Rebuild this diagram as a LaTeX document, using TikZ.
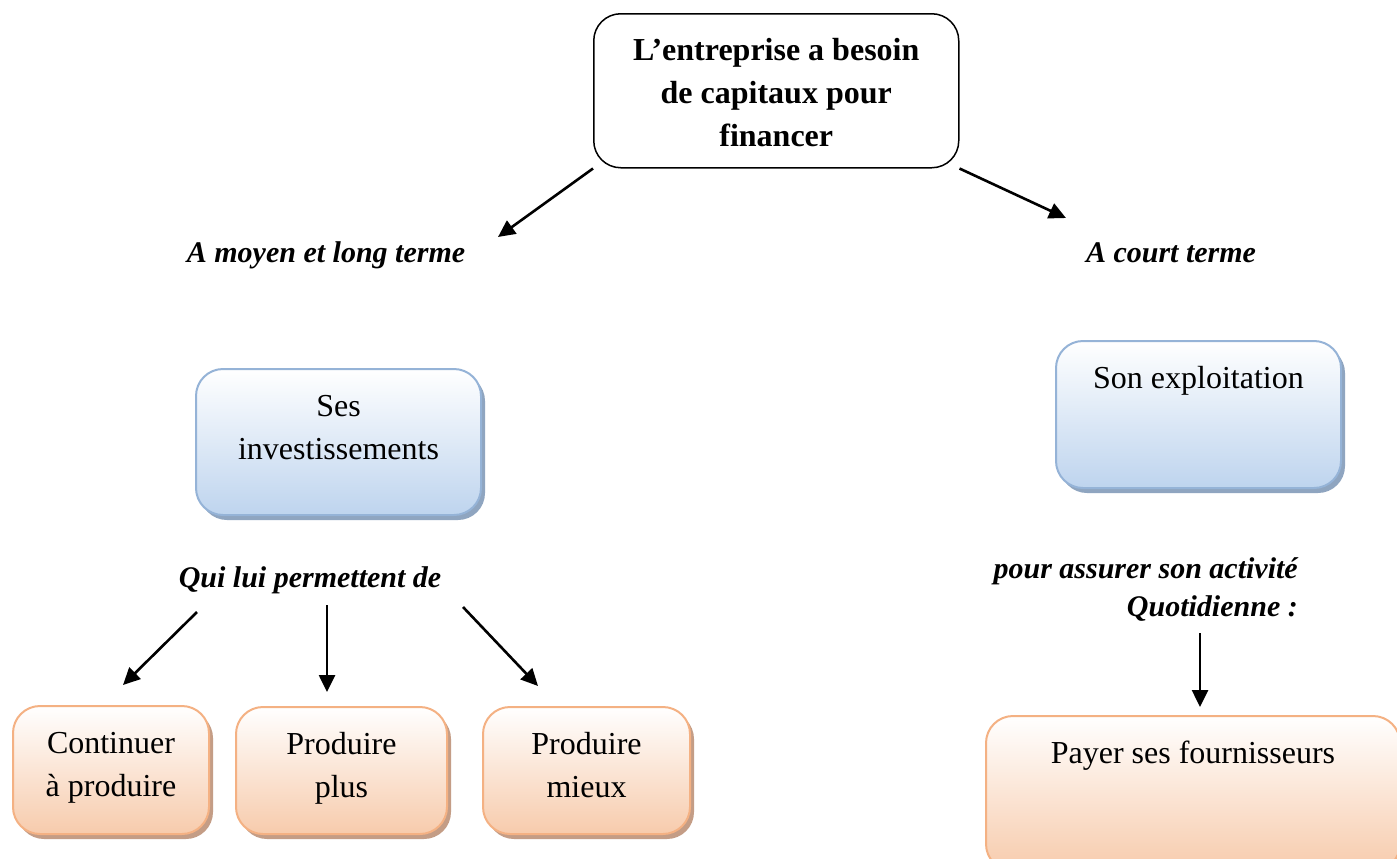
\documentclass[tikz,border=0pt]{standalone}
\usepackage{fontspec}
\setmainfont{Liberation Serif}
\usetikzlibrary{arrows.meta,shadows}

\definecolor{blueedge}{HTML}{95B3D7}
\definecolor{bluefill}{HTML}{BED4EE}
\definecolor{blueshadow}{HTML}{8FA5C0}
\definecolor{orangeedge}{HTML}{F4B183}
\definecolor{orangefill}{HTML}{F7CBAC}
\definecolor{orangeshadow}{HTML}{C49D86}

% box contents: fixed width and height, text hung from the top edge
\newcommand{\boxtext}[3]{\parbox[t][#2][t]{#1}{\centering\vspace*{17bp}\strut #3}}

\tikzset{
  box/.style={rounded corners=27bp, inner sep=0pt, anchor=north west,
    font=\fontsize{32bp}{43bp}\selectfont},
  topbox/.style={box, draw=black, line width=1.5bp, fill=white},
  bluebox/.style={box, draw=blueedge, line width=2bp, top color=white, bottom color=bluefill,
    drop shadow={shadow xshift=4bp, shadow yshift=-5bp, fill=blueshadow, opacity=1}},
  orangebox/.style={box, draw=orangeedge, line width=2bp, top color=white, bottom color=orangefill,
    drop shadow={shadow xshift=4bp, shadow yshift=-5bp, fill=orangeshadow, opacity=1}},
  lbl/.style={font=\fontsize{30bp}{38bp}\selectfont\bfseries\itshape, inner sep=0pt},
  arr/.style={-{Triangle[length=17bp,width=16bp]}, line width=2.6bp}
}

\begin{document}
\begin{tikzpicture}[x=1bp,y=-1bp]
\useasboundingbox (0,0) rectangle (1397,858);
\clip (0,0) rectangle (1397,858);
\fill[white] (0,0) rectangle (1397,858);

% top question
\node[topbox] (need) at (593,13)
  {\boxtext{365bp}{154bp}{\bfseries L’entreprise a besoin\\de capitaux pour\\financer}};

% the two horizons
\node[lbl, anchor=base] (longterm) at (326,262) {A moyen et long terme};
\node[lbl, anchor=base] (shortterm) at (1171,262) {A court terme};
\coordinate (longtip) at (498,237);
\coordinate (shorttip) at (1066,218);
\draw[arr] (need.south west) -- (longtip);
\draw[arr] (need.south east) -- (shorttip);

% blue boxes
\node[bluebox] (invest) at (195,368) {\boxtext{285bp}{146bp}{Ses\\investissements}};
\node[bluebox] (exploit) at (1055,340) {\boxtext{285bp}{147bp}{Son exploitation}};

% left branch
\node[lbl, anchor=base] (allow) at (310,587) {Qui lui permettent de};
\coordinate (s1) at (197,612);  \coordinate (e1) at (123,685);
\coordinate (s2) at (327,605);  \coordinate (e2) at (327,692);
\coordinate (s3) at (463,607);  \coordinate (e3) at (538,686);
\draw[arr] (s1) -- (e1);
\draw[arr] (s2) -- (e2);
\draw[arr] (s3) -- (e3);

\node[orangebox] (cont) at (12,705) {\boxtext{196bp}{128bp}{Continuer\\à produire}};
\node[orangebox] (plus) at (235,706) {\boxtext{211bp}{127bp}{Produire\\plus}};
\node[orangebox] (mieux) at (482,706) {\boxtext{207bp}{127bp}{Produire\\mieux}};

% right branch
\node[lbl, anchor=north east, align=right] (daily) at (1298,557)
  {pour assurer son activité\\Quotidienne :};
\coordinate (s4) at (1200,633);  \coordinate (e4) at (1200,707);
\draw[arr] (s4) -- (e4);

\node[orangebox] (pay) at (985,715) {\boxtext{414bp}{155bp}{Payer ses fournisseurs}};
\end{tikzpicture}
\end{document}
